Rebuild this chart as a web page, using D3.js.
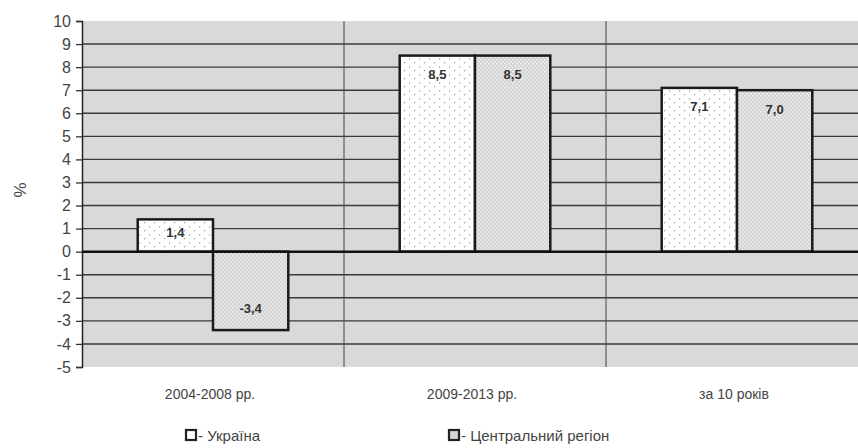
<!DOCTYPE html>
<meta charset="utf-8">
<script src="https://d3js.org/d3.v7.min.js"></script>
<style>
  body { margin: 0; background: #fff; }
  text { font-family: "Liberation Sans", Arial, sans-serif; }
</style>
<div id="chart"></div>
<script>
  // data
  var periods = ["2004-2008 рр.", "2009-2013 рр.", "за 10 років"];
  var seriesNames = ["Україна", "Центральний регіон"];
  var ukraine = [1.4, 8.5, 7.1];
  var central = [-3.4, 8.5, 7.0];
  var yTicks = [-5, -4, -3, -2, -1, 0, 1, 2, 3, 4, 5, 6, 7, 8, 9, 10];

  var W = 858, H = 448;
  var margin = { top: 21, right: -10, bottom: 81, left: 82 },
    width = W - margin.left - margin.right,
    height = H - margin.top - margin.bottom;

  var svg = d3.select("#chart").append("svg")
    .attr("width", W).attr("height", H);

  var defs = svg.append("defs");
  // sparse dots for Україна
  var p1 = defs.append("pattern").attr("id", "dotsA")
    .attr("patternUnits", "userSpaceOnUse").attr("width", 10).attr("height", 8);
  p1.append("rect").attr("width", 10).attr("height", 8).attr("fill", "#fff");
  p1.append("rect").attr("x", 2).attr("y", 1).attr("width", 1.2).attr("height", 1.2).attr("fill", "#999");
  p1.append("rect").attr("x", 7).attr("y", 5).attr("width", 1.2).attr("height", 2).attr("fill", "#bbb");
  // dense dots for Центральний регіон
  var p2 = defs.append("pattern").attr("id", "dotsB")
    .attr("patternUnits", "userSpaceOnUse").attr("width", 4).attr("height", 4);
  p2.append("rect").attr("width", 4).attr("height", 4).attr("fill", "#d4d4d4");
  p2.append("rect").attr("x", 0).attr("y", 0).attr("width", 1.5).attr("height", 1.5).attr("fill", "#f4f4f4");
  p2.append("rect").attr("x", 2).attr("y", 2).attr("width", 1.5).attr("height", 1.5).attr("fill", "#f4f4f4");

  var g = svg.append("g")
    .attr("transform", "translate(" + margin.left + "," + margin.top + ")");

  var x = d3.scaleBand().domain(periods).range([0, width]);
  var xInner = d3.scaleBand().domain(seriesNames)
    .range([0, x.bandwidth()]).paddingOuter(0.74).paddingInner(0);
  var y = d3.scaleLinear().domain([-5, 10]).range([height, 0]);

  // plot background
  g.append("rect").attr("width", width).attr("height", height).attr("fill", "#d9d9d9");

  // horizontal gridlines
  g.selectAll(".grid").data(yTicks.filter(function (d) { return d > -5 && d < 10 && d !== 0; }))
    .enter().append("line")
    .attr("x1", 0).attr("x2", width)
    .attr("y1", function (d) { return y(d); }).attr("y2", function (d) { return y(d); })
    .attr("stroke", "#3a3a3a").attr("stroke-width", 1.4);

  // vertical separators between categories
  g.selectAll(".sep").data(periods.slice(1))
    .enter().append("line")
    .attr("x1", function (d) { return x(d); }).attr("x2", function (d) { return x(d); })
    .attr("y1", 0).attr("y2", height)
    .attr("stroke", "#444").attr("stroke-width", 1);

  // y axis
  var yAxis = g.append("g")
    .call(d3.axisLeft(y).tickValues(yTicks).tickSize(6).tickPadding(5)
      .tickFormat(function (d) { return String(d); }));
  yAxis.select(".domain").attr("stroke", "#222").attr("stroke-width", 1.5);
  yAxis.selectAll(".tick line").attr("stroke", "#333").attr("stroke-width", 1.3);
  yAxis.selectAll(".tick text").style("font-size", "16px").attr("fill", "#444");

  var rows = [];
  periods.forEach(function (p, i) {
    rows.push({ period: p, series: seriesNames[0], value: ukraine[i], fill: "url(#dotsA)" });
    rows.push({ period: p, series: seriesNames[1], value: central[i], fill: "url(#dotsB)" });
  });

  var bars = g.selectAll(".bar").data(rows).enter().append("g");
  bars.append("rect")
    .attr("x", function (d) { return x(d.period) + xInner(d.series); })
    .attr("y", function (d) { return y(Math.max(0, d.value)); })
    .attr("width", xInner.bandwidth())
    .attr("height", function (d) { return Math.abs(y(d.value) - y(0)); })
    .attr("fill", function (d) { return d.fill; })
    .attr("stroke", "#1a1a1a").attr("stroke-width", 2.5);

  bars.append("text")
    .attr("x", function (d) { return x(d.period) + xInner(d.series) + xInner.bandwidth() / 2; })
    .attr("y", function (d) {
      var top = y(Math.max(0, d.value)), bot = y(Math.min(0, d.value));
      if (d.value >= 0) return Math.min(top + 19, (top + bot) / 2 - 3) + 4.5;
      return Math.max(bot - 22, (top + bot) / 2) + 4.5;
    })
    .attr("text-anchor", "middle")
    .style("font-size", "13px").style("font-weight", "bold").attr("fill", "#333")
    .text(function (d) { return d.value.toFixed(1).replace(".", ","); });

  // zero line
  g.append("line").attr("x1", 0).attr("x2", width)
    .attr("y1", y(0)).attr("y2", y(0))
    .attr("stroke", "#111").attr("stroke-width", 2.5);

  // category labels
  g.selectAll(".cat").data(periods).enter().append("text")
    .attr("x", function (d) { return x(d) + x.bandwidth() / 2 - 3; })
    .attr("y", height + 32)
    .attr("text-anchor", "middle")
    .style("font-size", "14px").attr("fill", "#444")
    .text(function (d) { return d; });

  // y title
  svg.append("text")
    .attr("transform", "translate(26,190) rotate(-90)")
    .attr("text-anchor", "middle")
    .style("font-size", "17px").attr("fill", "#444")
    .text("%");

  // legend
  var legend = svg.selectAll(".legend").data(seriesNames).enter().append("g")
    .attr("transform", function (d, i) { return "translate(" + (i === 0 ? 186 : 449) + ",430)"; });
  legend.append("rect")
    .attr("width", 10).attr("height", 10)
    .attr("fill", function (d, i) { return i === 0 ? "#fff" : "#d4d4d4"; })
    .attr("stroke", "#222").attr("stroke-width", 2.2);
  legend.append("text")
    .attr("x", 12).attr("y", 11)
    .style("font-size", "15px").attr("fill", "#444")
    .text(function (d) { return "- " + d; });
</script>
